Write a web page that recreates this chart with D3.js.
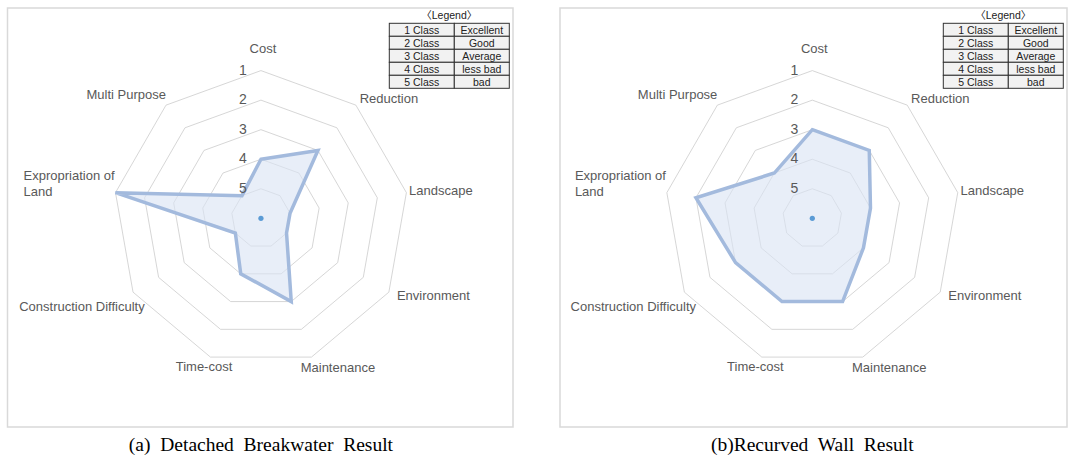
<!DOCTYPE html>
<html>
<head>
<meta charset="utf-8">
<script src="https://cdn.jsdelivr.net/npm/d3@7"></script>
<style>
  html, body { margin: 0; padding: 0; background: #ffffff; }
  svg { display: block; }
  .cap { white-space: pre; }
</style>
</head>
<body>
<svg id="chart" width="1074" height="464"></svg>
<script>
// ---------------- data ----------------
const axes = ["Cost", "Reduction", "Landscape", "Environment", "Maintenance",
              "Time-cost", "Construction Difficulty", "Expropriation of Land", "Multi Purpose"];
const detachedBreakwater = [4, 3, 5, 5, 3, 4, 5, 1, 5];
const recurvedWall       = [3, 3, 4, 4, 3, 3, 3, 2, 4];
const tickValues = [1, 2, 3, 4, 5];
const legendClasses = ["1 Class", "2 Class", "3 Class", "4 Class", "5 Class"];
const legendMeaning = ["Excellent", "Good", "Average", "less bad", "bad"];
const legendTitle = "\u3008Legend\u3009";
const captions = ["(a)  Detached  Breakwater  Result", "(b)Recurved  Wall  Result"];

// ---------------- layout ----------------
const svg = d3.select("#chart");
const panels = [
  { x0: 7.5, x1: 513, values: detachedBreakwater, caption: captions[0] },
  { x0: 560, x1: 1067, values: recurvedWall, caption: captions[1] }
];
const panelTop = 8, panelBottom = 427;
const R = 147.7;
const cy = 218.3;
const r = d3.scaleLinear().domain([6, 1]).range([0, R]);
const angle = d3.scalePoint().domain(d3.range(axes.length)).range([0, 2 * Math.PI * (axes.length - 1) / axes.length]);

// label placement tweaks (layout only)
const labelPad = 18;
const labelNudge = [[2, -4.3], [21.5, 6.9], [16.8, 1.2], [29, -5.9], [20.3, -6.7],
                    [-0.3, -7.7], [-35.5, 5.1], [-28.7, -6.1], [-28.2, 2.9]];

const labelFont = "'Liberation Sans', Arial, sans-serif";

panels.forEach((p, pi) => {
  const cx = p.x0 + (p.x1 - p.x0) / 2 + (pi === 0 ? 0.7 : -1.2);
  const g = svg.append("g");

  // panel frame
  g.append("rect")
    .attr("x", p.x0).attr("y", panelTop)
    .attr("width", p.x1 - p.x0).attr("height", panelBottom - panelTop)
    .attr("fill", "#ffffff").attr("stroke", "#d9d9d9").attr("stroke-width", 1.5);

  const chart = g.append("g").attr("transform", `translate(${cx},${cy})`);

  // grid rings
  const ringLine = d3.lineRadial()
    .angle((d, i) => angle(i))
    .radius(d => r(d))
    .curve(d3.curveLinearClosed);
  chart.selectAll(".ring").data(tickValues).enter().append("path")
    .attr("d", v => ringLine(axes.map(() => v)))
    .attr("fill", "none").attr("stroke", "#cccccc").attr("stroke-width", 0.8);

  // series polygon
  const seriesLine = d3.lineRadial()
    .angle((d, i) => angle(i))
    .radius(d => r(d))
    .curve(d3.curveLinearClosed);
  chart.append("path")
    .attr("d", seriesLine(p.values))
    .attr("fill", "#dae4f4").attr("fill-opacity", 0.62)
    .attr("stroke", "#a3badd").attr("stroke-width", 3.5)
    .attr("stroke-linejoin", "miter");

  // center dot
  chart.append("circle").attr("cx", 0).attr("cy", 0).attr("r", 2.6).attr("fill", "#5b9bd5");

  // tick labels
  chart.selectAll(".tick").data(tickValues).enter().append("text")
    .attr("x", -18).attr("y", v => -r(v) - 1)
    .attr("dy", "0.36em")
    .attr("text-anchor", "middle")
    .attr("font-family", labelFont).attr("font-size", 14)
    .attr("fill", "#595959")
    .text(v => v);

  // axis labels
  axes.forEach((name, i) => {
    const a = angle(i);
    const lx = (R + labelPad) * Math.sin(a) + labelNudge[i][0];
    const ly = -(R + labelPad) * Math.cos(a) + labelNudge[i][1];
    const t = chart.append("text")
      .attr("font-family", labelFont).attr("font-size", 13)
      .attr("fill", "#595959");
    if (name === "Expropriation of Land") {
      const lines = ["Expropriation of", "Land"];
      t.attr("text-anchor", "start");
      lines.forEach((ln, k) => {
        t.append("tspan").attr("y", ly + (k - 0.5) * 15.3).attr("dy", "0.35em").text(ln);
      });
      const w = d3.max(t.selectAll("tspan").nodes(), n => n.getComputedTextLength());
      t.selectAll("tspan").attr("x", lx - w / 2);
    } else {
      t.attr("x", lx).attr("y", ly).attr("dy", "0.35em")
        .attr("text-anchor", "middle").text(name);
    }
  });

  // legend table
  const tRight = p.x1 - 3.7;
  const colW = [65, 55];
  const tLeft = tRight - colW[0] - colW[1];
  const rowH = 13, tTop = 23.3;
  const lg = g.append("g");
  lg.append("text")
    .attr("x", tLeft + (colW[0] + colW[1]) / 2).attr("y", 15).attr("dy", "0.35em")
    .attr("text-anchor", "middle")
    .attr("font-family", labelFont + ", 'Noto Sans CJK KR'").attr("font-size", 10.5)
    .attr("fill", "#222").text(legendTitle);
  legendClasses.forEach((c, k) => {
    const y = tTop + k * rowH;
    [c, legendMeaning[k]].forEach((txt, j) => {
      const x = j === 0 ? tLeft : tLeft + colW[0];
      lg.append("rect").attr("x", x).attr("y", y).attr("width", colW[j]).attr("height", rowH)
        .attr("fill", "#f2f2f2").attr("stroke", "#333333").attr("stroke-width", 1);
      lg.append("text")
        .attr("x", x + colW[j] / 2).attr("y", y + rowH / 2).attr("dy", "0.36em")
        .attr("text-anchor", "middle")
        .attr("font-family", labelFont).attr("font-size", 10.5)
        .attr("fill", "#222").text(txt);
    });
  });

  // caption
  svg.append("text").attr("class", "cap")
    .attr("x", cx).attr("y", 451)
    .attr("text-anchor", "middle")
    .attr("font-family", "'Liberation Serif', 'Times New Roman', serif")
    .attr("font-size", 19.5).attr("fill", "#000")
    .text(p.caption);
});
</script>
</body>
</html>
